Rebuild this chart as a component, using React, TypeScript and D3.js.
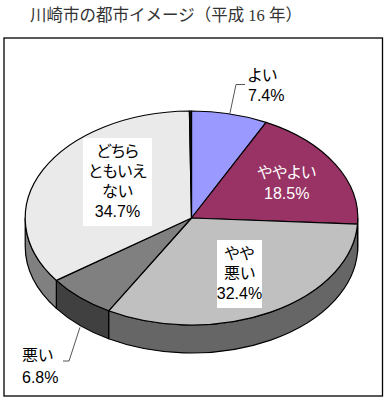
import React from "react";
import * as d3 from "d3";

const title = "川崎市の都市イメージ（平成 16 年）";
const categories = ["よい", "ややよい", "やや悪い", "悪い", "どちらともいえない", "無回答"];
const values = [7.4, 18.5, 32.4, 6.8, 34.7, 0.2];
const labelLines = [
  ["よい", "7.4%"],
  ["ややよい", "18.5%"],
  ["やや", "悪い", "32.4%"],
  ["悪い", "6.8%"],
  ["どちら", "ともいえ", "ない", "34.7%"],
  [],
];

const topColors = ["#9999FF", "#993366", "#C0C0C0", "#808080", "#EAEAEA", "#111111"];
const sideColors = ["#4d4d80", "#4d1a33", "#666666", "#404040", "#808080", "#000000"];

const W = 386;
const H = 400;
const cx = 191.5;
const cy = 218;
const rx = 166.3;
const ry = 107;
const depth = 28;

const LABEL_FONT = "'Liberation Sans', 'Noto Sans CJK JP', sans-serif";

// label layout (anchor x, first baseline, line height, text-anchor, color, optional white box)
const labelLayout = [
  { x: 248, y: 81, lh: 20, anchor: "start", color: "#000", box: null, leader: [[236, 84.5], [245, 84.5]], leaderAt: "top" },
  { x: 286.7, y: 177.5, lh: 21, anchor: "middle", color: "#fff", box: null },
  { x: 239.5, y: 258.5, lh: 20, anchor: "middle", color: "#000", box: [217, 240, 45, 68] },
  { x: 22, y: 361, lh: 22, anchor: "start", color: "#000", box: null, leader: [[69, 361], [63, 361]], leaderAt: "bottom" },
  { x: 117.5, y: 157, lh: 20, anchor: "middle", color: "#000", box: [83, 138, 69, 88] },
  null,
];

function pt(a: number, dy = 0): [number, number] {
  return [cx + rx * Math.sin(a), cy - ry * Math.cos(a) + dy];
}

export default function App() {
  const pie = d3.pie<number>().sort(null).value((d) => d).startAngle(0).endAngle(2 * Math.PI);
  const arcs = pie(values);

  const topPath = (a0: number, a1: number) => {
    const [x0, y0] = pt(a0);
    const [x1, y1] = pt(a1);
    const large = a1 - a0 > Math.PI ? 1 : 0;
    return `M${cx},${cy}L${x0},${y0}A${rx},${ry} 0 ${large} 1 ${x1},${y1}Z`;
  };

  const sidePath = (a0: number, a1: number) => {
    const s = Math.max(a0, Math.PI / 2);
    const e = Math.min(a1, (3 * Math.PI) / 2);
    if (s >= e) return null;
    const [x0, y0] = pt(s);
    const [x1, y1] = pt(e);
    const large = e - s > Math.PI ? 1 : 0;
    return `M${x0},${y0}A${rx},${ry} 0 ${large} 1 ${x1},${y1}L${x1},${y1 + depth}A${rx},${ry} 0 ${large} 0 ${x0},${y0 + depth}Z`;
  };

  return (
    <svg width={W} height={H} style={{ position: "absolute", left: 0, top: 0, background: "#fff" }}>
      <rect x={0} y={0} width={W} height={H} fill="#fff" />
      <text
        x={30}
        y={20.5}
        fontSize={16.5}
        fontFamily="'Liberation Serif', 'Noto Sans CJK JP', serif"
        fill="#333"
      >
        {title}
      </text>
      <rect x={4} y={38} width={378.5} height={358} fill="#fff" stroke="#000" strokeWidth={1.3} />

      {arcs.map((a, i) => {
        const d = sidePath(a.startAngle, a.endAngle);
        return d ? (
          <path key={"s" + i} d={d} fill={sideColors[i]} stroke="#000" strokeWidth={1.2} strokeLinejoin="round" />
        ) : null;
      })}
      {arcs.map((a, i) => (
        <path
          key={"t" + i}
          d={topPath(a.startAngle, a.endAngle)}
          fill={topColors[i]}
          stroke="#000"
          strokeWidth={1.2}
          strokeLinejoin="round"
        >
          <title>{categories[i]}</title>
        </path>
      ))}

      {arcs.map((a, i) => {
        const L = labelLayout[i];
        if (!L) return null;
        const mid = (a.startAngle + a.endAngle) / 2;
        let leader = null;
        if (L.leader) {
          const start = L.leaderAt === "top" ? pt(mid) : pt(mid, depth + 2);
          const pts = [start, ...L.leader];
          leader = (
            <polyline
              points={pts.map((p) => p.join(",")).join(" ")}
              fill="none"
              stroke="#555"
              strokeWidth={1}
            />
          );
        }
        return (
          <g key={"l" + i}>
            {leader}
            {L.box && <rect x={L.box[0]} y={L.box[1]} width={L.box[2]} height={L.box[3]} fill="#fff" />}
            {labelLines[i].map((line, j) => (
              <text
                key={j}
                x={L.x}
                y={L.y + j * L.lh}
                textAnchor={L.anchor}
                fontSize={16}
                fontFamily={LABEL_FONT}
                fill={L.color}
                style={{ fontFeatureSettings: "'palt'" }}
              >
                {line}
              </text>
            ))}
          </g>
        );
      })}
    </svg>
  );
}
